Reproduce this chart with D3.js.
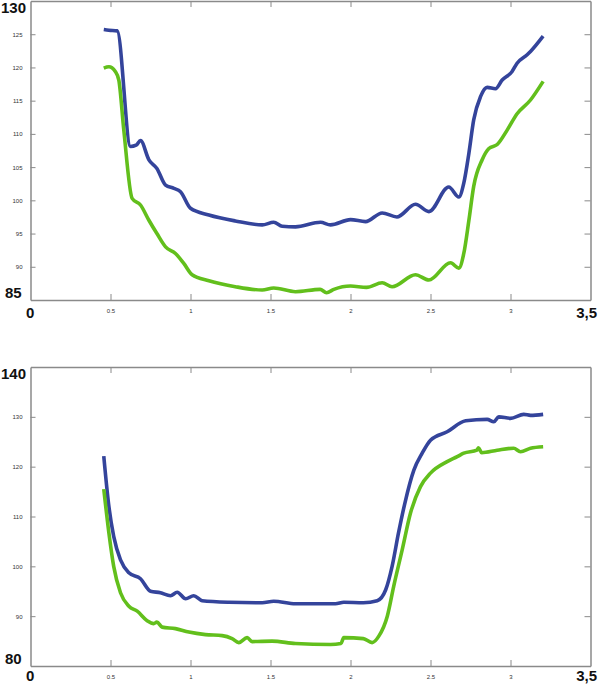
<!DOCTYPE html>
<html>
<head>
<meta charset="utf-8">
<script src="https://cdn.jsdelivr.net/npm/d3@7"></script>
<style>
  body { margin: 0; background: #fff; }
  svg { display: block; }
  .tick text { font-family: "Liberation Sans Narrow", "Liberation Sans", Arial, sans-serif; font-size: 6px; fill: #333; }
  .big { font-family: "Liberation Sans Narrow", "Liberation Sans", Arial, sans-serif; font-size: 15px; font-weight: bold; fill: #111; }
</style>
</head>
<body>
<svg id="chart" width="600" height="684"></svg>
<script>
// top panel
const topBlueX = [0.458, 0.49, 0.542, 0.625, 0.66, 0.6875, 0.74, 0.79, 0.844, 0.896, 0.9375, 1.0, 1.115, 1.28, 1.448, 1.52, 1.573, 1.656, 1.8125, 1.875, 2.0, 2.094, 2.198, 2.29, 2.406, 2.49, 2.614, 2.677, 2.708, 2.74, 2.77, 2.8125, 2.854, 2.906, 2.948, 3.01, 3.04, 3.104, 3.125, 3.204];
const topBlueY = [125.7, 125.6, 125.5, 108.1, 108.3, 109.0, 106.1, 104.8, 102.3, 101.8, 101.3, 98.8, 97.8, 96.9, 96.3, 96.7, 96.1, 96.0, 96.7, 96.3, 97.1, 96.8, 98.1, 97.5, 99.4, 98.3, 102.0, 100.5, 102.6, 107.1, 112.1, 115.6, 117.0, 116.8, 118.1, 119.4, 120.6, 121.9, 122.4, 124.7];
const topGreenX = [0.458, 0.49, 0.53, 0.552, 0.583, 0.635, 0.6875, 0.74, 0.79, 0.844, 0.906, 0.958, 1.01, 1.115, 1.28, 1.448, 1.52, 1.656, 1.81, 1.85, 1.896, 2.0, 2.1, 2.198, 2.26, 2.406, 2.49, 2.625, 2.677, 2.708, 2.74, 2.77, 2.823, 2.865, 2.917, 2.98, 3.04, 3.125, 3.204];
const topGreenY = [119.9, 120.1, 119.4, 118.1, 110.6, 100.3, 99.3, 97.0, 95.0, 93.0, 92.0, 90.5, 88.8, 87.9, 87.0, 86.5, 86.8, 86.25, 86.6, 86.1, 86.6, 87.1, 86.9, 87.6, 87.0, 88.8, 88.0, 90.6, 89.8, 92.0, 97.0, 102.1, 106.1, 107.8, 108.4, 110.6, 113.0, 115.1, 117.9];
const topYTicks = [90, 95, 100, 105, 110, 115, 120, 125];

// bottom panel
const botBlueX = [0.458, 0.49, 0.52, 0.5625, 0.615, 0.6875, 0.75, 0.8125, 0.875, 0.917, 0.97, 1.02, 1.073, 1.24, 1.448, 1.52, 1.656, 1.906, 1.958, 2.08, 2.167, 2.22, 2.26, 2.30, 2.34, 2.396, 2.448, 2.5, 2.604, 2.72, 2.854, 2.896, 2.927, 3.0, 3.083, 3.125, 3.204];
const botBlueY = [122.1, 112.0, 106.0, 101.3, 98.7, 97.5, 95.0, 94.7, 94.1, 94.8, 93.5, 94.1, 93.1, 92.8, 92.7, 93.0, 92.5, 92.5, 92.8, 92.7, 93.1, 95.3, 100.0, 106.7, 112.7, 119.3, 122.7, 125.3, 127.0, 129.2, 129.5, 129.0, 130.0, 129.7, 130.5, 130.3, 130.5];
const botGreenX = [0.458, 0.49, 0.52, 0.5625, 0.615, 0.667, 0.729, 0.77, 0.79, 0.823, 0.906, 0.99, 1.094, 1.198, 1.26, 1.302, 1.354, 1.385, 1.51, 1.656, 1.875, 1.94, 1.958, 2.08, 2.135, 2.177, 2.23, 2.27, 2.323, 2.375, 2.4375, 2.5, 2.604, 2.667, 2.708, 2.79, 2.80, 2.82, 2.917, 3.02, 3.0625, 3.125, 3.204];
const botGreenY = [115.5, 106.7, 100.0, 94.7, 92.0, 91.0, 89.1, 88.5, 88.8, 87.8, 87.5, 86.8, 86.3, 86.1, 85.5, 84.7, 85.7, 84.9, 85.0, 84.5, 84.3, 84.5, 85.7, 85.5, 84.7, 86.0, 90.0, 96.0, 103.3, 110.7, 116.0, 118.7, 121.0, 122.0, 122.7, 123.3, 123.8, 122.8, 123.3, 123.7, 123.0, 123.7, 124.0];
const botYTicks = [90, 100, 110, 120, 130];

const xTicks = [0.5, 1, 1.5, 2, 2.5, 3];

const blue = "#34449b";
const green = "#62bf1c";
const axisColor = "#8a8a8a";

const svg = d3.select("#chart");

function panel(cfg) {
  const x = d3.scaleLinear().domain([0, 3.5]).range([30.5, 590.5]);
  const y = d3.scaleLinear().domain(cfg.yDomain).range([cfg.bottom, cfg.top]);
  const g = svg.append("g");

  // frame with inward ticks
  g.append("g").attr("transform", `translate(0,${cfg.bottom})`)
    .call(d3.axisBottom(x).tickValues(xTicks).tickSize(-6).tickSizeOuter(0)
      .tickPadding(9).tickFormat(d => String(d)));
  g.append("g").attr("transform", `translate(0,${cfg.top})`)
    .call(d3.axisTop(x).tickValues(xTicks).tickSize(-6).tickSizeOuter(0).tickFormat(""));
  g.append("g").attr("transform", `translate(${x.range()[0]},0)`)
    .call(d3.axisLeft(y).tickValues(cfg.yTicks).tickSize(-5).tickSizeOuter(0)
      .tickPadding(8).tickFormat(d => String(d)));
  g.append("g").attr("transform", `translate(${x.range()[1]},0)`)
    .call(d3.axisRight(y).tickValues(cfg.yTicks).tickSize(-6).tickSizeOuter(0).tickFormat(""));

  g.selectAll(".domain").attr("stroke", axisColor).attr("stroke-width", 1.5);
  g.selectAll(".tick line").attr("stroke", axisColor).attr("stroke-width", 1);

  // end labels
  g.append("text").attr("class", "big").attr("x", 1).attr("y", cfg.top + 12).text(cfg.yDomain[1]);
  g.append("text").attr("class", "big").attr("x", 5).attr("y", cfg.bottom - 2).text(cfg.yDomain[0]);
  g.append("text").attr("class", "big").attr("x", 26).attr("y", cfg.bottom + cfg.endDy).text("0");
  g.append("text").attr("class", "big").attr("x", 597).attr("y", cfg.bottom + cfg.endDy)
    .attr("text-anchor", "end").text("3,5");

  const line = d3.line().x(d => x(d[0])).y(d => y(d[1])).curve(d3.curveMonotoneX);
  [[cfg.blueX, cfg.blueY, blue], [cfg.greenX, cfg.greenY, green]].forEach(([xs, ys, c]) => {
    g.append("path")
      .datum(xs.map((v, i) => [v, ys[i]]))
      .attr("fill", "none")
      .attr("stroke", c)
      .attr("stroke-width", 3.6)
      .attr("stroke-linejoin", "round")
      .attr("stroke-linecap", "butt")
      .attr("d", line);
  });
}

panel({ top: 1, bottom: 300, yDomain: [85, 130], yTicks: topYTicks, endDy: 18,
  blueX: topBlueX, blueY: topBlueY, greenX: topGreenX, greenY: topGreenY });
panel({ top: 367, bottom: 666, yDomain: [80, 140], yTicks: botYTicks, endDy: 15,
  blueX: botBlueX, blueY: botBlueY, greenX: botGreenX, greenY: botGreenY });
</script>
</body>
</html>
